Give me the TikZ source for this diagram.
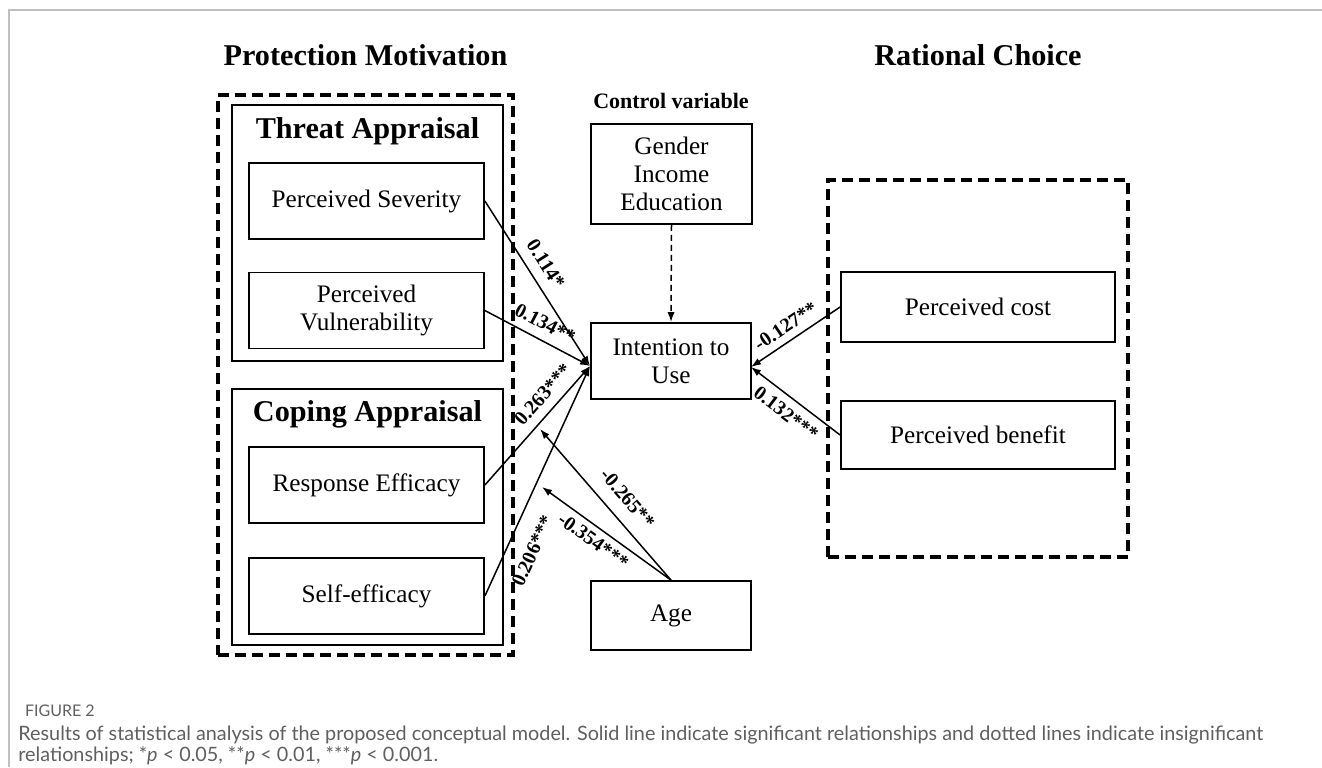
\documentclass[tikz,border=0pt]{standalone}
\usepackage{fontspec}
\setmainfont{Liberation Serif}
\newfontfamily\captionfont{Lato}
\usetikzlibrary{arrows.meta, positioning, fit, backgrounds}

\begin{document}
\begin{tikzpicture}[x=0.5pt, y=-0.5pt, >={Latex[length=5pt, width=3.6pt]}]

	\definecolor{frame_gray}{RGB}{192,192,192}
\definecolor{caption_gray}{RGB}{95,95,95}

\tikzstyle{block} = [rectangle, draw, line width=0.9pt, minimum width=117.5pt, minimum height=38pt, align=center, inner sep=0pt, font=\fontsize{12.6}{14}\selectfont]
\tikzstyle{group_box} = [rectangle, draw, line width=0.9pt, inner sep=0pt]
\tikzstyle{dash_box} = [rectangle, draw, line width=2pt, dash pattern=on 5.5pt off 3pt, inner sep=0pt]
\tikzstyle{title} = [font=\fontsize{15.1}{17}\selectfont\bfseries]
\tikzstyle{coef} = [sloped, inner sep=1pt, font=\fontsize{10}{11}\selectfont\bfseries]
\tikzstyle{line} = [draw, line width=0.75pt]

	\useasboundingbox (0,0) rectangle (1322,767);
	\draw [frame_gray, line width=0.8pt] (9,767) -- (9,10) -- (1322,10);

	% protection motivation side
	\node [title] (pm_title) at (365.5,55) {Protection Motivation};
	\node [dash_box, fit={(218,95) (513,655)}] (pm_box) {};
	\node [group_box, fit={(232,105) (503,361)}] (threat_box) {};
	\node [group_box, fit={(232,389) (503,645)}] (coping_box) {};
	\node [title] (threat_title) at (367.5,131) {Threat Appraisal};
	\node [title] (coping_title) at (367.5,414) {Coping Appraisal};

	\node [block] (severity) at (366.5,201) {Perceived Severity};
	\node [block, below of=severity, node distance=54.75pt] (vulnerability) {Perceived\\Vulnerability};
	\node [block] (response) at (366.5,485) {Response Efficacy};
	\node [block, below of=response, node distance=55.5pt] (self) {Self-efficacy};

	% centre column
	\node [font=\fontsize{11}{12}\selectfont\bfseries] (control_title) at (671,101) {Control variable};
	\node [block, minimum width=80.5pt, minimum height=50pt] (control) at (671.5,174) {Gender\\Income\\Education};
	\node [block, minimum width=80pt] (intention) at (671,361) {Intention to\\Use};
	\node [block, minimum width=80pt, minimum height=34.5pt] (age) at (671,615.5) {Age};

	% rational choice side
	\node [title] (rc_title) at (978,55) {Rational Choice};
	\node [dash_box, fit={(828,180) (1128,557)}] (rc_box) {};
	\node [block, minimum width=137pt, minimum height=35pt] (cost) at (978,307) {Perceived cost};
	\node [block, minimum width=137pt, minimum height=34pt, below of=cost, node distance=64pt] (benefit) {Perceived benefit};

	\coordinate (in_left) at (590,366);
	\coordinate (in_right) at (751,367);
	\coordinate (mod_response) at (540,429);
	\coordinate (mod_self) at (542,487);

	\path [line, ->] (severity.east) -- node [coef, above=4pt, pos=0.44] {0.114*} (in_left);
	\path [line, ->] (vulnerability.east) -- node [coef, above=3.5pt, pos=0.5] {0.134**} (in_left);
	\path [line, ->] (response.east) -- node [coef, above=3.5pt, pos=0.67] {0.263***} (in_left);
	\path [line, ->] (self.east) -- node [coef, below=7.5pt, pos=0.24] {0.206***} (in_left);
	\path [line, ->] (cost.west) -- node [coef, above=2.5pt, pos=0.52] {-0.127**} (in_right);
	\path [line, ->] (benefit.west) -- node [coef, below=3pt, pos=0.5] {0.132***} (in_right);
	\path [line, ->] (age.north) -- node [coef, above=5.5pt, pos=0.45] {-0.265**} (mod_response);
	\path [line, ->] (age.north) -- node [coef, below=2pt, pos=0.54] {-0.354***} (mod_self);
	\path [line, ->, densely dashed] (control.south) -- (intention.north);

	% caption
	\node [anchor=west, text=caption_gray, font=\captionfont\fontsize{8}{9}\selectfont] (fig_label) at (18,711) {FIGURE 2};
	\node [anchor=north west, align=left, inner sep=0pt, text=caption_gray, font=\captionfont\fontsize{9.9}{10.2}\selectfont] (fig_caption) at (18,726) {Results of statistical analysis of the proposed conceptual model. Solid line indicate significant relationships and dotted lines indicate insignificant\\relationships; *\textit{p} < 0.05, **\textit{p} < 0.01, ***\textit{p} < 0.001.};

\end{tikzpicture}
\end{document}
